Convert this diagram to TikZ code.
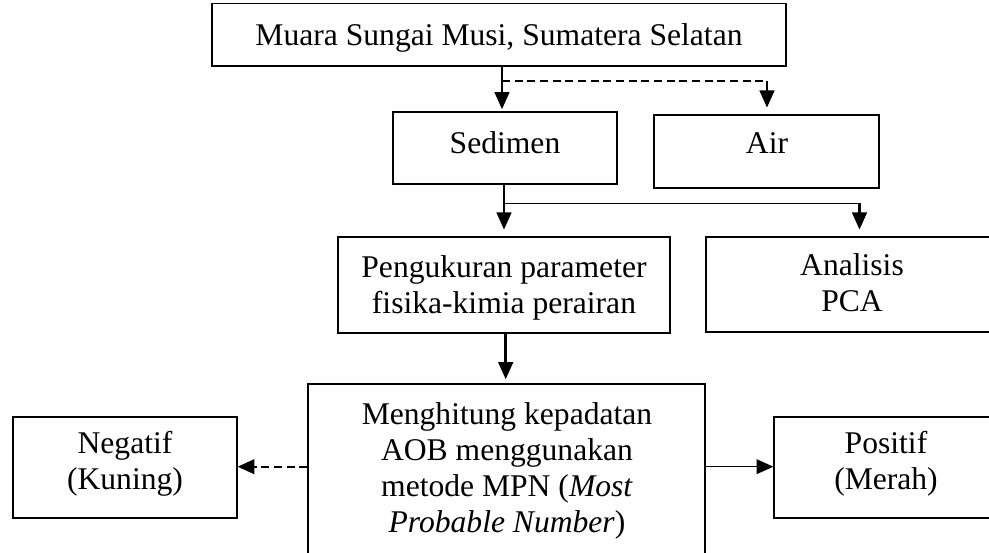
\documentclass[tikz,border=0pt]{standalone}
\usepackage{fontspec}
\setmainfont{Liberation Serif}
\usetikzlibrary{arrows.meta,fit}
\begin{document}
\begin{tikzpicture}[x=0.75pt,y=-0.75pt,
  box/.style={draw, line width=1pt, inner sep=0pt},
  lbl/.style={font=\fontsize{23.7}{27}\selectfont, align=center, inner sep=0pt, anchor=base},
  arr/.style={line width=2pt, -{Triangle[length=13pt,width=11pt]}},
  thinarr/.style={line width=1pt, -{Triangle[length=12.5pt,width=11pt]}},
  dsh/.style={line width=1.4pt, dash pattern=on 6pt off 3.5pt}
]
\useasboundingbox (0,0) rectangle (989,553);
\clip (0,0) rectangle (989,553);

% boxes
\node[box, fit={(212,3.5) (786,66)}] (top) {};
\node[box, fit={(393,112) (617,184)}] (sed) {};
\node[box, fit={(654,115) (879,188)}] (air) {};
\node[box, fit={(338,237) (670,333)}] (peng) {};
\node[box, fit={(706,237) (998,332)}] (pca) {};
\node[box, fit={(308,384) (705,580)}] (mpn) {};
\node[box, fit={(13,417) (237,518)}] (neg) {};
\node[box, fit={(774,417) (998,518)}] (pos) {};

% texts (anchor=base is the baseline of the last line)
\node[lbl] (ttop) at (499,45) {Muara Sungai Musi, Sumatera Selatan};
\node[lbl] (tsed) at (505,153) {Sedimen};
\node[lbl] (tair) at (767,153) {Air};
\node[lbl] (tpeng) at (504,313) {Pengukuran parameter\\fisika-kimia perairan};
\node[lbl] (tpca) at (852,311.5) {Analisis\\PCA};
\node[lbl] (tmpn) at (507,532) {Menghitung kepadatan\\AOB menggunakan\\metode MPN (\textit{Most}\\\textit{Probable Number})};
\node[lbl] (tneg) at (125,489) {Negatif\\(Kuning)};
\node[lbl] (tpos) at (886,489.5) {Positif\\(Merah)};

% connectors
\coordinate (c1) at (502,80.7);
\coordinate (c2) at (767,80.7);
\draw[arr, shorten >=1.5pt] (top.south -| c1) -- (sed.north -| c1);
\draw[dsh] (c1) -- (c2);
\draw[arr, shorten >=5pt] (c2) -- (air.north -| c2);

\coordinate (c3) at (504,203.3);
\coordinate (c4) at (859.5,203.3);
\draw[arr, shorten >=5pt] (sed.south -| c3) -- (peng.north -| c3);
\draw[line width=1.2pt] (c3) -- (c4);
\draw[arr, shorten >=5pt] (c4) -- (pca.north -| c4);

\coordinate (c5) at (505.7,300);
\draw[arr, shorten >=3pt] (peng.south -| c5) -- (mpn.north -| c5);

\coordinate (c6) at (600,466.7);
\draw[dsh, -{Triangle[length=12.5pt,width=11pt]}] (mpn.west |- c6) -- (neg.east |- c6);
\draw[thinarr] (mpn.east |- c6) -- (pos.west |- c6);
\end{tikzpicture}
\end{document}
